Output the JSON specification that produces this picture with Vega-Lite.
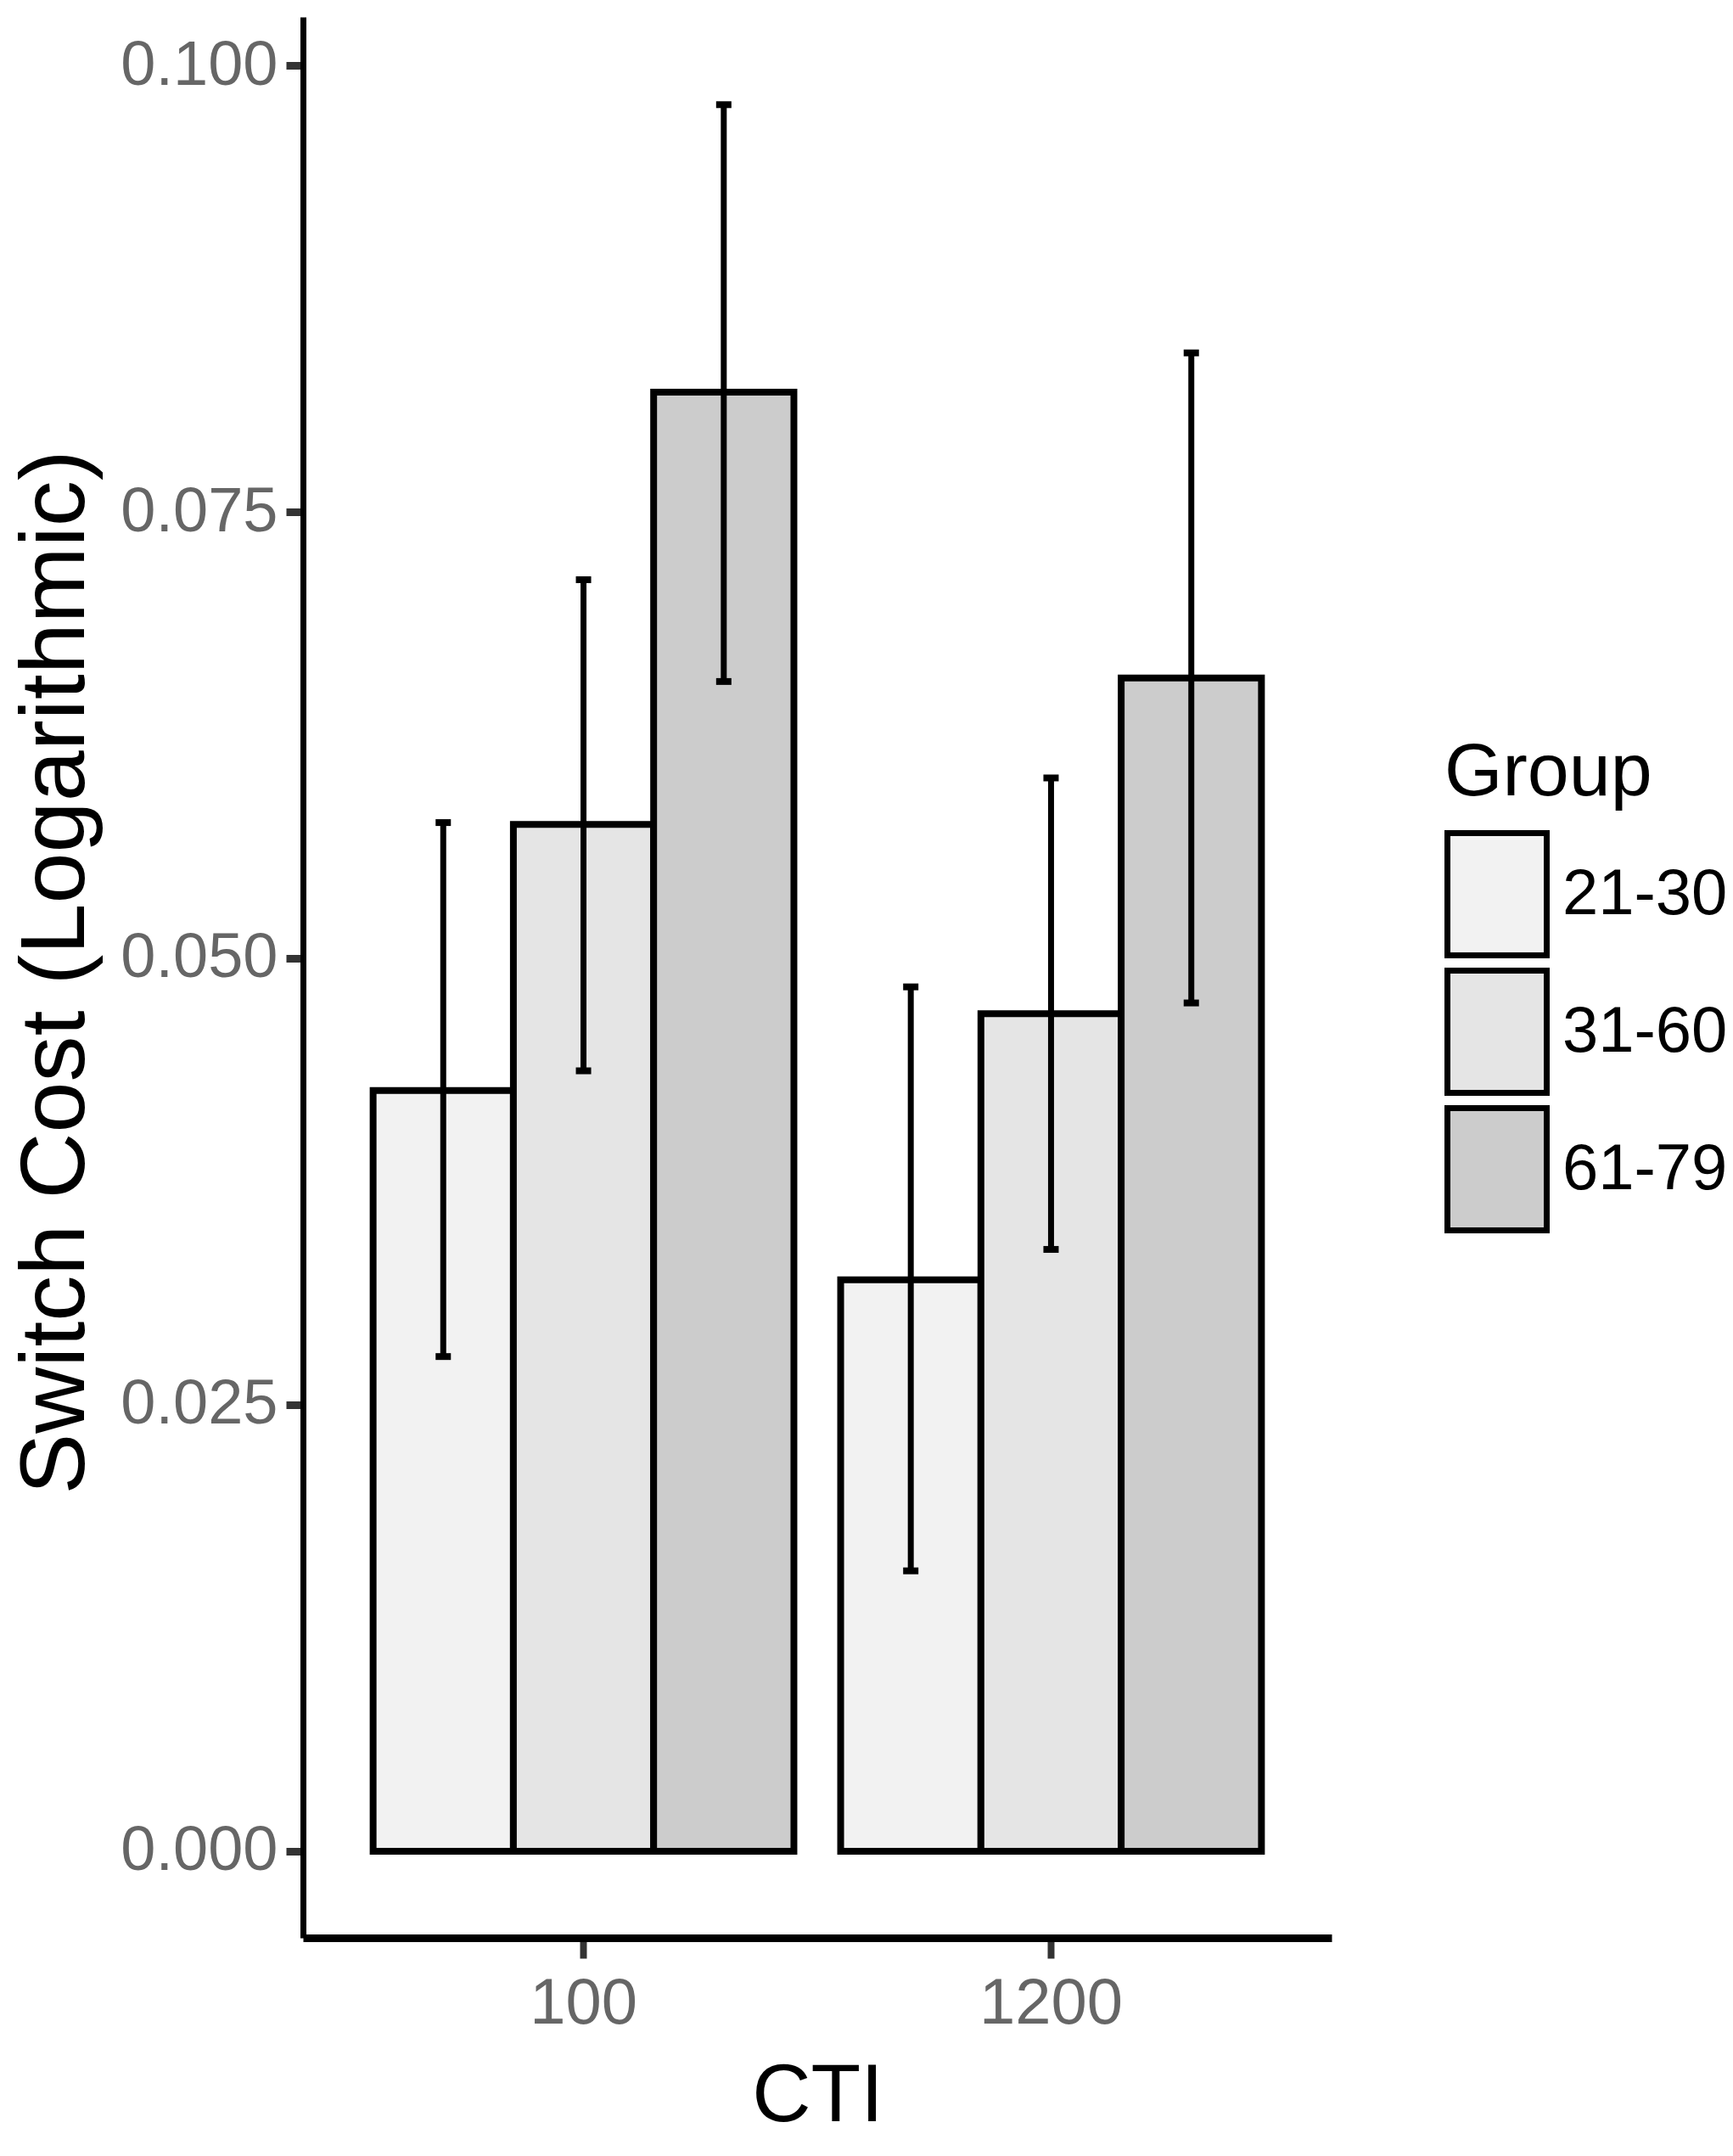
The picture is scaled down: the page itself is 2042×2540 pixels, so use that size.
{
  "$schema": "https://vega.github.io/schema/vega-lite/v6.json",
  "width": 1212,
  "height": 2263,
  "autosize": {"type": "none"},
  "padding": {"left": 357, "top": 20, "right": 473, "bottom": 257},
  "background": "white",
  "config": {"view": {"stroke": null}, "font": "Liberation Sans"},
  "data": {
    "values": [
      {"CTI": "100", "Group": "21-30", "mean": 0.0426, "lo": 0.0277, "hi": 0.0576},
      {"CTI": "100", "Group": "31-60", "mean": 0.0575, "lo": 0.0437, "hi": 0.0712},
      {"CTI": "100", "Group": "61-79", "mean": 0.0817, "lo": 0.0655, "hi": 0.0978},
      {"CTI": "1200", "Group": "21-30", "mean": 0.0320, "lo": 0.0157, "hi": 0.0484},
      {"CTI": "1200", "Group": "31-60", "mean": 0.0469, "lo": 0.0337, "hi": 0.0601},
      {"CTI": "1200", "Group": "61-79", "mean": 0.0657, "lo": 0.0475, "hi": 0.0839}
    ]
  },
  "encoding": {
    "x": {
      "field": "CTI", "type": "nominal", "sort": ["100", "1200"],
      "scale": {"paddingInner": 0.1, "paddingOuter": 0.15},
      "axis": {
        "title": "CTI", "labelAngle": 0, "labelFont": "Liberation Sans", "labelFontSize": 76,
        "labelColor": "#666666", "tickColor": "#333333", "tickWidth": 8, "tickSize": 24,
        "domainColor": "black", "domainWidth": 9, "labelPadding": 16, "grid": false, "labelLimit": 500,
        "titleFont": "Liberation Sans", "titleFontSize": 96, "titleFontWeight": "normal",
        "titleColor": "black", "titlePadding": 24
      }
    },
    "xOffset": {"field": "Group", "type": "nominal", "sort": ["21-30", "31-60", "61-79"], "scale": {"paddingInner": 0, "paddingOuter": 0}}
  },
  "layer": [
    {
      "mark": {"type": "bar", "stroke": "black", "strokeWidth": 8, "strokeJoin": "miter"},
      "encoding": {
        "y": {
          "field": "mean", "type": "quantitative",
          "scale": {"domain": [-0.00485, 0.10271], "nice": false, "zero": false},
          "axis": {
            "title": "Switch Cost (Logarithmic)", "values": [0, 0.025, 0.05, 0.075, 0.1], "format": ".3f",
            "labelFont": "Liberation Sans", "labelFontSize": 74, "labelColor": "#666666", "labelLimit": 500,
            "tickColor": "#333333", "tickWidth": 9, "tickSize": 20, "domainColor": "black", "domainWidth": 7,
            "grid": false, "labelPadding": 10, "titleFont": "Liberation Sans", "titleFontSize": 108,
            "titleFontWeight": "normal", "titleColor": "black",
            "titleX": -259, "titleY": 1125, "titleBaseline": "alphabetic", "titleAngle": 270, "titleAlign": "center"
          }
        },
        "y2": {"datum": 0},
        "fill": {
          "field": "Group", "type": "nominal",
          "scale": {"domain": ["21-30", "31-60", "61-79"], "range": ["#F2F2F2", "#E5E5E5", "#CCCCCC"]},
          "legend": {
            "orient": "none", "legendX": 1345, "legendY": 847, "title": "Group",
            "titleFont": "Liberation Sans", "titleFontSize": 88, "titleFontWeight": "normal",
            "titleColor": "black", "titlePadding": 23, "titleLimit": 600, "labelFont": "Liberation Sans",
            "labelFontSize": 76, "labelColor": "black", "labelLimit": 600,
            "symbolType": "M-1,-1H0.625V1H-1Z", "symbolSize": 20736,
            "symbolStrokeColor": "black", "symbolStrokeWidth": 7, "symbolOpacity": 1,
            "rowPadding": -27, "labelOffset": -12, "padding": 0
          }
        }
      }
    },
    {
      "mark": {"type": "rule", "color": "black", "strokeWidth": 7},
      "encoding": {
        "y": {"field": "lo", "type": "quantitative", "title": "Switch Cost (Logarithmic)"},
        "y2": {"field": "hi"}
      }
    },
    {
      "mark": {"type": "tick", "color": "black", "thickness": 8, "size": 18, "opacity": 1},
      "encoding": {"y": {"field": "lo", "type": "quantitative", "title": "Switch Cost (Logarithmic)"}}
    },
    {
      "mark": {"type": "tick", "color": "black", "thickness": 8, "size": 18, "opacity": 1},
      "encoding": {"y": {"field": "hi", "type": "quantitative", "title": "Switch Cost (Logarithmic)"}}
    }
  ]
}
